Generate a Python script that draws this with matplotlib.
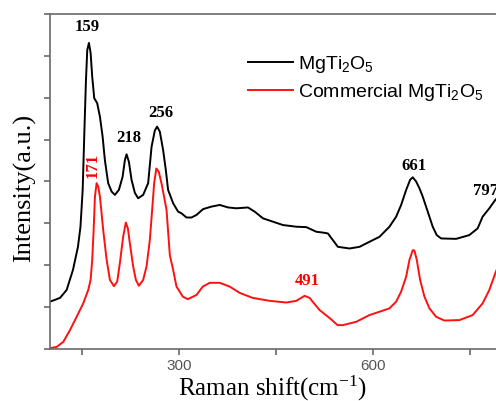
import numpy as np
import matplotlib
matplotlib.use('Agg')
import matplotlib.pyplot as plt

# 拉曼光谱数据
shift_black = [100, 115.5, 125.8, 135.6, 143.3, 147.2, 150.6, 153.0, 155.7, 157.7, 160.3,
               162.9, 165.4, 168.5, 173.1, 177.3, 181.5, 185.0, 190.1, 195.4, 200.5, 206.7,
               212.4, 216.0, 218.6, 222.2, 226.3, 231.4, 236.5, 244.3, 252.0, 257.3, 262.4,
               265.9, 270.1, 275.2, 279.4, 282.9, 290.7, 298.4, 303.6, 311.4, 319.1, 326.8,
               337.0, 350.0, 362.9, 375.7, 388.7, 406.6, 417.0, 429.8, 445.3, 460.8, 481.5,
               496.9, 512.4, 522.6, 530.3, 538.1, 545.8, 563.9, 579.4, 594.8, 610.3, 625.7,
               636.1, 643.8, 651.6, 657.7, 661.8, 667.0, 672.1, 677.2, 685.0, 692.7, 698.9,
               705.7, 728.9, 749.4, 762.3, 770.0, 780.4, 789.6, 792]
int_black = [1.13, 1.22, 1.41, 1.89, 2.44, 2.92, 3.80, 5.07, 6.42, 7.14, 7.31,
             7.07, 6.50, 5.99, 5.87, 5.55, 5.07, 4.51, 3.96, 3.76, 3.68, 3.80,
             4.11, 4.51, 4.65, 4.47, 4.04, 3.73, 3.60, 3.68, 3.96, 4.83, 5.22,
             5.31, 5.19, 4.75, 4.27, 3.80, 3.48, 3.28, 3.24, 3.14, 3.14, 3.20,
             3.34, 3.40, 3.44, 3.38, 3.36, 3.38, 3.28, 3.12, 3.04, 2.96, 2.92,
             2.91, 2.80, 2.78, 2.76, 2.60, 2.44, 2.40, 2.44, 2.56, 2.68, 2.92,
             3.16, 3.44, 3.80, 4.04, 4.10, 4.00, 3.84, 3.64, 3.28, 2.92, 2.72,
             2.64, 2.63, 2.72, 2.88, 3.16, 3.36, 3.56, 3.60]

shift_red = [100, 110.4, 120.6, 130.9, 141.3, 151.5, 159.2, 162.9, 165.4, 167.6, 169.6,
             172.2, 174.7, 177.3, 179.9, 182.4, 187.7, 192.8, 199.0, 204.1, 208.2, 213.3,
             217.5, 220.6, 223.7, 228.8, 233.0, 237.6, 244.3, 249.5, 254.6, 258.2, 261.3,
             264.7, 268.5, 273.2, 280.5, 285.6, 290.7, 295.9, 305.7, 313.4, 326.8, 336.6,
             347.4, 362.9, 378.3, 393.8, 413.9, 440.2, 466.0, 481.5, 494.3, 502.0, 517.5,
             533.0, 545.3, 553.5, 574.3, 594.8, 610.3, 625.7, 636.1, 643.8, 651.6, 656.7,
             661.8, 664.4, 668.0, 673.2, 679.9, 687.6, 697.9, 710.8, 734.0, 754.6, 770.0,
             780.4, 789.6, 792]
int_red = [0.02, 0.05, 0.17, 0.45, 0.77, 1.09, 1.41, 1.65, 2.13, 2.84, 3.64,
           3.96, 3.88, 3.64, 3.24, 2.84, 2.13, 1.65, 1.50, 1.61, 2.05, 2.68,
           3.02, 2.88, 2.52, 1.97, 1.65, 1.51, 1.65, 1.97, 2.60, 3.32, 3.96,
           4.31, 4.23, 3.92, 3.32, 2.24, 1.89, 1.49, 1.25, 1.19, 1.29, 1.49,
           1.58, 1.58, 1.49, 1.34, 1.22, 1.15, 1.11, 1.15, 1.27, 1.22, 0.93,
           0.74, 0.57, 0.57, 0.65, 0.81, 0.89, 0.97, 1.13, 1.37, 1.73, 2.13,
           2.36, 2.35, 2.13, 1.65, 1.25, 0.97, 0.77, 0.68, 0.69, 0.81, 1.09,
           1.41, 1.81, 1.90]

# 峰位标注: (文字, x, y, 颜色, 旋转)
peak_labels = [('159', 158, 7.68, 'black', 0),
               ('218', 222, 5.05, 'black', 0),
               ('256', 271.6, 5.64, 'black', 0),
               ('171', 166.5, 4.39, 'red', 90),
               ('491', 498, 1.62, 'red', 0),
               ('661', 663, 4.37, 'black', 0),
               ('797', 774, 3.77, 'black', 0)]

x_ticks = [150, 300, 450, 600, 750]
x_ticklabels = ['', '300', '', '600', '']

spine_c = '#6a6a6a'

fig = plt.figure(figsize=(4.96, 4.01), dpi=100)
ax = fig.add_axes([0.1008, 0.1297, 0.9113, 0.8354])

ax.plot(shift_black, int_black, color='black', lw=1.4, label=r'MgTi$\mathregular{_2}$O$\mathregular{_5}$')
ax.plot(shift_red, int_red, color='#ff1010', lw=1.4, label=r'Commercial MgTi$\mathregular{_2}$O$\mathregular{_5}$')

for txt, x, y, c, rot in peak_labels:
    ax.text(x, y, txt, color=c, rotation=rot, ha='center', va='center',
            fontsize=12, fontweight='bold', family='Liberation Serif')

ax.set_xlim(100, 800)
ax.set_ylim(0, 8)
ax.set_xticks(x_ticks)
ax.set_xticklabels(x_ticklabels, family='Liberation Sans', fontsize=11, color='#555555')
ax.set_yticks(np.arange(0, 9))
ax.set_yticklabels([])
ax.tick_params(axis='x', direction='out', length=4, width=1.2, color=spine_c, pad=3)
ax.tick_params(axis='y', direction='out', length=4, width=1.2, color=spine_c)

for s in ax.spines.values():
    s.set_color(spine_c)
    s.set_linewidth(1.2)

ax.set_xlabel(r'Raman shift(cm$\mathregular{^{-1}}$)', family='Liberation Serif', fontsize=18)
ax.xaxis.set_label_coords(0.493, -0.073)
ax.set_ylabel('Intensity(a.u.)', family='Liberation Serif', fontsize=19)
ax.yaxis.set_label_coords(-0.031, 0.48)

ax.legend(loc='upper left', bbox_to_anchor=(0.438, 0.882), frameon=False, borderpad=0,
          borderaxespad=0, handlelength=2.3, handletextpad=0.26, labelspacing=0.4,
          prop={'family': 'Liberation Sans', 'size': 14})

fig.savefig('out.png', dpi=100)
